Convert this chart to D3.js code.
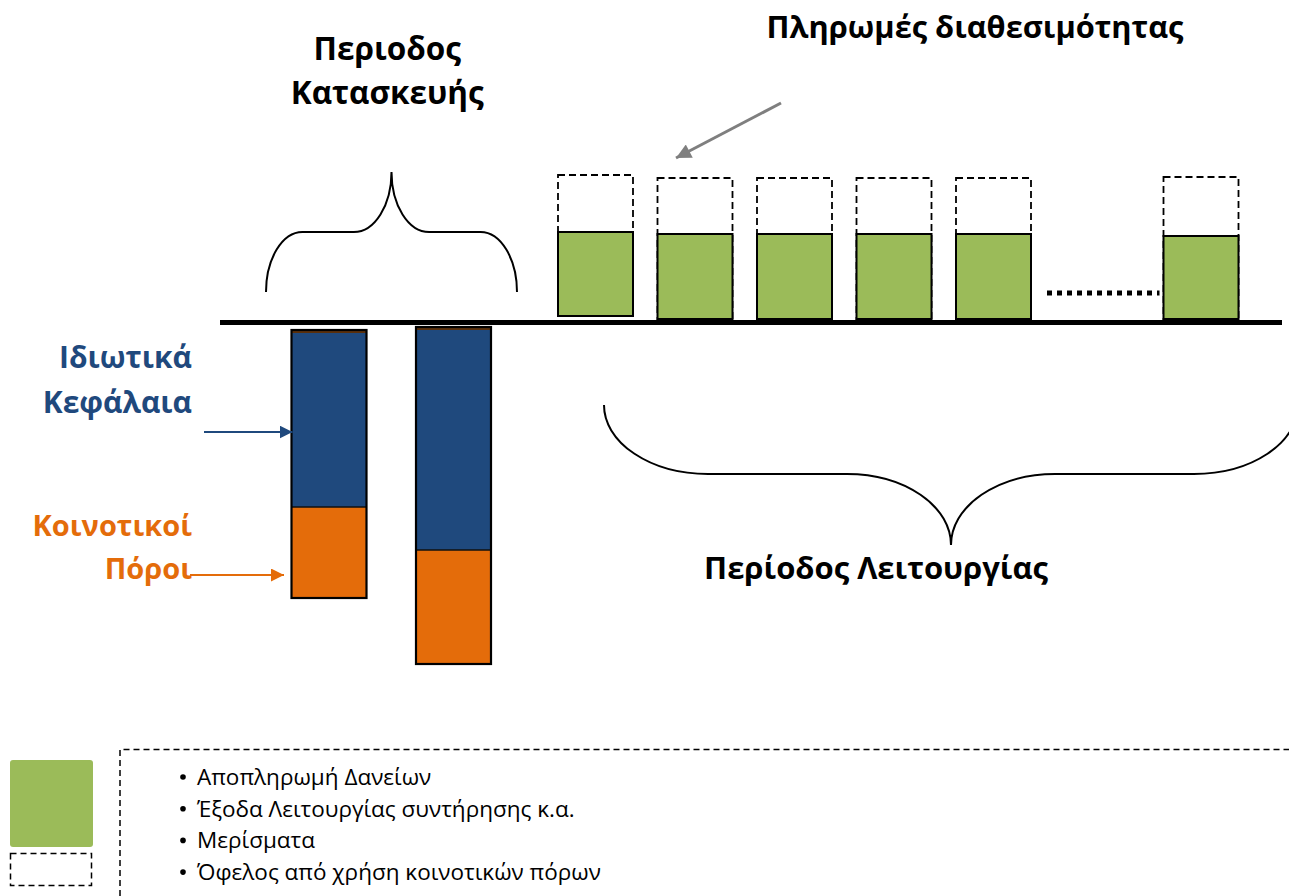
<!DOCTYPE html>
<html>
<head>
<meta charset="utf-8">
<script src="https://cdn.jsdelivr.net/npm/d3@7"></script>
<style>
  html, body { margin: 0; padding: 0; background: #ffffff; }
  svg { display: block; font-family: "Open Sans", "Noto Sans", sans-serif; }
</style>
</head>
<body>
<svg id="chart" width="1289" height="896"></svg>
<script>
// ---------------- DATA ----------------
// Construction period (negative = funding going in)
const constructionYears = [1, 2];
const constructionOffset = [8, 5];          // gap below the axis before the stack starts
const otherFunds = [3, 3];                  // thin dark top layer
const privateEquity = [174, 220];           // Ιδιωτικά Κεφάλαια
const communityFunds = [91, 114];           // Κοινοτικοί Πόροι

// Operation period (positive = availability payments)
const operationYears = [3, 4, 5, 6, 7, 9];
const operationBase = [6, 3, 3, 3, 3, 3];
const paymentUses = [90, 88, 88, 88, 88, 86];          // green
const availabilityPayments = [147, 144, 144, 144, 144, 145]; // dashed outline

// Text
const titleConstruction = ["Περιοδος", "Κατασκευής"];
const titlePayments = "Πληρωμές διαθεσιμότητας";
const titleOperation = "Περίοδος Λειτουργίας";
const labelEquity = ["Ιδιωτικά", "Κεφάλαια"];
const labelCommunity = ["Κοινοτικοί", "Πόροι"];
const legendItems = [
  "Αποπληρωμή Δανείων",
  "Έξοδα Λειτουργίας συντήρησης κ.α.",
  "Μερίσματα",
  "Όφελος από χρήση κοινοτικών πόρων"
];

// ---------------- STYLE ----------------
const C = {
  blue: "#1F497D",
  orange: "#E46C0A",
  green: "#9BBB59",
  brown: "#5a300c",
  grey: "#7f7f7f"
};
const barW = 75;

const svg = d3.select("#chart");

// Scales
const x = d3.scaleLinear().domain([1, 2, 3, 7, 9]).range([329, 453.5, 595.5, 993.5, 1201]);
const y = d3.scaleLinear().domain([-350, 150]).range([672, 172]);

// ---------------- Markers ----------------
const defs = svg.append("defs");
function marker(id, color, w, h) {
  defs.append("marker")
    .attr("id", id).attr("viewBox", "0 0 10 10")
    .attr("refX", 10).attr("refY", 5)
    .attr("markerUnits", "userSpaceOnUse")
    .attr("markerWidth", w).attr("markerHeight", h)
    .attr("orient", "auto")
    .append("path").attr("d", "M0,0 L10,5 L0,10 Z").attr("fill", color);
}
marker("arrBlue", C.blue, 13, 13);
marker("arrOrange", C.orange, 14, 13);
marker("arrGrey", C.grey, 17, 15);

// ---------------- Construction bars ----------------
const cons = constructionYears.map((yr, i) => {
  const s0 = -constructionOffset[i];
  const s1 = s0 - otherFunds[i];
  const s2 = s1 - privateEquity[i];
  const s3 = s2 - communityFunds[i];
  return { yr, segs: [
    { from: s0, to: s1, color: C.brown },
    { from: s1, to: s2, color: C.blue },
    { from: s2, to: s3, color: C.orange }
  ], top: s0, bottom: s3, split: s2 };
});

const cg = svg.append("g");
cons.forEach(d => {
  const g = cg.append("g");
  g.selectAll("rect.seg").data(d.segs).join("rect")
    .attr("class", "seg")
    .attr("x", x(d.yr) - barW / 2)
    .attr("width", barW)
    .attr("y", s => y(s.from))
    .attr("height", s => y(s.to) - y(s.from))
    .attr("fill", s => s.color);
  g.append("line")
    .attr("x1", x(d.yr) - barW / 2).attr("x2", x(d.yr) + barW / 2)
    .attr("y1", y(d.split)).attr("y2", y(d.split))
    .attr("stroke", "#111").attr("stroke-width", 1.5);
  g.append("rect")
    .attr("x", x(d.yr) - barW / 2).attr("width", barW)
    .attr("y", y(d.top)).attr("height", y(d.bottom) - y(d.top))
    .attr("fill", "none").attr("stroke", "#000").attr("stroke-width", 2.2);
});

// ---------------- Operation bars ----------------
const ops = operationYears.map((yr, i) => ({
  yr, base: operationBase[i], val: paymentUses[i], avail: availabilityPayments[i]
}));
const og = svg.append("g");
og.selectAll("rect.avail").data(ops).join("rect")
  .attr("class", "avail")
  .attr("x", d => x(d.yr) - barW / 2).attr("width", barW)
  .attr("y", d => y(d.avail)).attr("height", d => y(d.base) - y(d.avail))
  .attr("fill", "none").attr("stroke", "#000").attr("stroke-width", 1.8)
  .attr("stroke-dasharray", "7,4");
og.selectAll("rect.pay").data(ops).join("rect")
  .attr("class", "pay")
  .attr("x", d => x(d.yr) - barW / 2).attr("width", barW)
  .attr("y", d => y(d.val)).attr("height", d => y(d.base) - y(d.val))
  .attr("fill", C.green).attr("stroke", "#000").attr("stroke-width", 2);

// dotted continuation
svg.append("line")
  .attr("x1", x(7) + barW / 2 + 16).attr("x2", x(9) - barW / 2 - 4)
  .attr("y1", y(29)).attr("y2", y(29))
  .attr("stroke", "#000").attr("stroke-width", 5)
  .attr("stroke-dasharray", "5,5");

// ---------------- Axis (baseline) ----------------
svg.append("line")
  .attr("x1", 220).attr("x2", 1282)
  .attr("y1", y(0) + 0.5).attr("y2", y(0) + 0.5)
  .attr("stroke", "#000").attr("stroke-width", 5);

// ---------------- Braces ----------------
function brace(xl, xr, yEnd, yMid, yTip, frac) {
  const xm = (xl + xr) / 2, hw = (xr - xl) / 2;
  const x1 = xl + hw * frac, x2 = xm - hw * 0.30;
  const x3 = xm + hw * 0.30, x4 = xr - hw * frac;
  const up = yTip < yMid;
  const r1x = x1 - xl, r1y = Math.abs(yMid - yEnd);
  const r2x = xm - x2, r2y = Math.abs(yTip - yMid);
  const s1 = up ? 1 : 0, s2 = up ? 0 : 1;
  return `M${xl},${yEnd} A${r1x},${r1y} 0 0 ${s1} ${x1},${yMid} L${x2},${yMid} ` +
         `A${r2x},${r2y} 0 0 ${s2} ${xm},${yTip} A${r2x},${r2y} 0 0 ${s2} ${x3},${yMid} ` +
         `L${x4},${yMid} A${r1x},${r1y} 0 0 ${s1} ${xr},${yEnd}`;
}
svg.append("path")
  .attr("d", brace(x(1) - 63, x(2) + 63.5, 292, 232, 172, 0.29))
  .attr("fill", "none").attr("stroke", "#000").attr("stroke-width", 2);
svg.append("path")
  .attr("d", brace(604, 1298, 405, 474, 545, 0.30))
  .attr("fill", "none").attr("stroke", "#000").attr("stroke-width", 2);

// ---------------- Titles ----------------
const tC = svg.append("text").attr("text-anchor", "middle")
  .attr("font-size", 31.5).attr("font-weight", 700).attr("fill", "#000");
titleConstruction.forEach((t, i) => {
  tC.append("tspan").attr("x", (x(1) + x(2)) / 2 - 4).attr("y", 60 + i * 44).text(t);
});
svg.append("text").attr("x", 975).attr("y", 38).attr("text-anchor", "middle")
  .attr("font-size", 30.8).attr("font-weight", 700).attr("fill", "#000").text(titlePayments);
svg.append("text").attr("x", 876).attr("y", 579).attr("text-anchor", "middle")
  .attr("font-size", 31).attr("font-weight", 700).attr("fill", "#000").text(titleOperation);

// Left labels
const tE = svg.append("text").attr("text-anchor", "end")
  .attr("font-size", 30).attr("font-weight", 700).attr("fill", C.blue);
labelEquity.forEach((t, i) => tE.append("tspan").attr("x", 192).attr("y", 368 + i * 45).text(t));
const tK = svg.append("text").attr("text-anchor", "end")
  .attr("font-size", 29).attr("font-weight", 700).attr("fill", C.orange);
labelCommunity.forEach((t, i) => tK.append("tspan").attr("x", 192).attr("y", 536 + i * 43).text(t));

// Arrows
svg.append("line").attr("x1", 204).attr("y1", 432).attr("x2", x(1) - barW / 2 + 1).attr("y2", 432)
  .attr("stroke", C.blue).attr("stroke-width", 2.2).attr("marker-end", "url(#arrBlue)");
svg.append("line").attr("x1", 190).attr("y1", 575).attr("x2", 284).attr("y2", 575)
  .attr("stroke", C.orange).attr("stroke-width", 2.2).attr("marker-end", "url(#arrOrange)");
svg.append("line").attr("x1", 781).attr("y1", 103).attr("x2", 676).attr("y2", 158)
  .attr("stroke", C.grey).attr("stroke-width", 3).attr("marker-end", "url(#arrGrey)");

// ---------------- Legend ----------------
svg.append("rect").attr("x", 10).attr("y", 760).attr("width", 83).attr("height", 87)
  .attr("rx", 3).attr("fill", C.green);
svg.append("rect").attr("x", 10.5).attr("y", 853.5).attr("width", 81).attr("height", 32)
  .attr("fill", "none").attr("stroke", "#000").attr("stroke-width", 1.5)
  .attr("stroke-dasharray", "6,4");
svg.append("path").attr("d", "M120,896 L120,749.5 L1289,749.5")
  .attr("fill", "none").attr("stroke", "#000").attr("stroke-width", 1.5)
  .attr("stroke-dasharray", "6,4");
const lgY = (d, i) => 785 + i * 31.7;
// bullets drawn as small dots
svg.append("g").selectAll("circle").data(legendItems).join("circle")
  .attr("cx", 183).attr("cy", (d, i) => lgY(d, i) - 8).attr("r", 2.8).attr("fill", "#000");
svg.append("g").selectAll("text").data(legendItems).join("text")
  .attr("x", 197).attr("y", lgY)
  .attr("font-size", 22.5).attr("fill", "#000")
  .text(d => d);
</script>
</body>
</html>
